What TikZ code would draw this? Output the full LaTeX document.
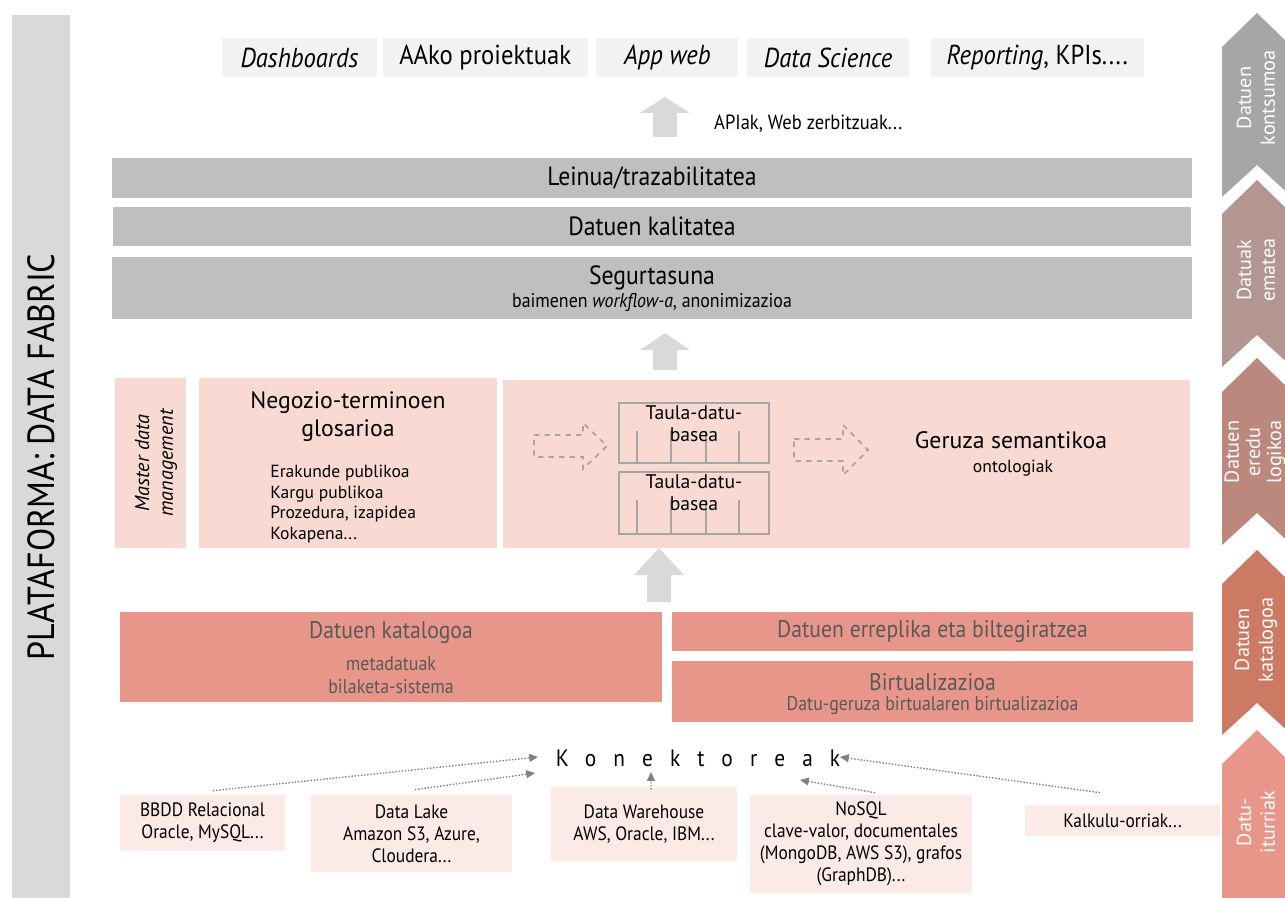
\documentclass[tikz,border=0pt]{standalone}
\usepackage{fontspec}
\setmainfont{PT Sans}
\newfontfamily\condfont{PT Sans}[FakeStretch=0.9]
\usetikzlibrary{positioning,arrows.meta}

\definecolor{sidegray}{HTML}{D9D9D9}
\definecolor{topgray}{HTML}{F2F2F2}
\definecolor{bargray}{HTML}{BFBFBF}
\definecolor{arrowgray}{HTML}{D9D9D9}
\definecolor{linegray}{HTML}{A6A6A6}
\definecolor{conngray}{HTML}{808080}
\definecolor{lightpink}{HTML}{F8DAD2}
\definecolor{salmon}{HTML}{E9968A}
\definecolor{srcpink}{HTML}{FCEAE7}
\definecolor{darktext}{HTML}{595959}
\definecolor{chevA}{HTML}{A6A6A6}
\definecolor{chevB}{HTML}{B39591}
\definecolor{chevC}{HTML}{BC887E}
\definecolor{chevD}{HTML}{CC7A64}
\definecolor{chevE}{HTML}{E9968A}

% wide arrow pointing up: centre x, tip y, head y, foot y
\newcommand{\blockup}[4]{%
  \fill[arrowgray] (#1-12,#4) -- (#1-12,#3) -- (#1-25,#3) -- (#1,#2)
    -- (#1+25,#3) -- (#1+12,#3) -- (#1+12,#4) -- cycle;}
% dashed arrow pointing right: start x, head x, tip x, centre y, half shaft, half head
\newcommand{\dashright}[6]{%
  \draw[linegray, dashed, line width=1pt] (#1,#4-#5) -- (#2,#4-#5) -- (#2,#4-#6) -- (#3,#4)
    -- (#2,#4+#6) -- (#2,#4+#5) -- (#1,#4+#5) -- cycle;}
% chevron on the right: tip y, bottom corner y, colour
\newcommand{\chevron}[3]{%
  \fill[#3] (1222,#1+34) -- (1257,#1) -- (1292,#1+34) -- (1292,#2) -- (1257,#2-32) -- (1222,#2) -- cycle;}

\begin{document}
\begin{tikzpicture}[x=0.02cm, y=-0.02cm,
  sz/.style 2 args={minimum width=#1*0.02cm, minimum height=#2*0.02cm},
  topbox/.style={fill=topgray, inner sep=0pt, font=\condfont\fontsize{15.6}{18}\selectfont},
  bar/.style={fill=bargray, inner sep=0pt, font=\condfont\fontsize{15}{18}\selectfont},
  pinkbox/.style={fill=lightpink, inner sep=0pt},
  salmonbox/.style={fill=salmon, inner sep=0pt, text=darktext, font=\condfont\fontsize{13.7}{16}\selectfont},
  salmontext/.style={text=darktext, inner sep=0pt, font=\condfont\fontsize{13.7}{16}\selectfont},
  subtext/.style={inner sep=0pt, align=center, font=\condfont\fontsize{11.3}{13}\selectfont},
  srcbox/.style={fill=srcpink, inner sep=0pt, align=center, font=\condfont\fontsize{11}{12.5}\selectfont},
  taula/.style={draw=linegray, line width=1.3pt, sz={150}{60}, inner sep=0pt},
  chevtext/.style={rotate=90, text=white, align=center, font=\fontsize{11.5}{13.5}\selectfont},
  conn/.style={draw=conngray, densely dotted, line width=0.8pt, -{Triangle[length=5pt,width=4.5pt]}},
  ]
\useasboundingbox (0,0) rectangle (1285,898);

% platform bar
\node[fill=sidegray, rotate=90, sz={884}{58}, font=\condfont\fontsize{21.5}{24}\selectfont] (plat) at (41,457) {PLATAFORMA: DATA FABRIC};

% consumers
\node[topbox, sz={155}{39}] (dash) at (299.5,57.5) {\textit{Dashboards}};
\node[topbox, sz={205}{39}, right=0.1cm of dash] (aako) {AAko proiektuak};
\node[topbox, sz={142}{39}, right=0.16cm of aako] (appweb) {\textit{App web}};
\node[topbox, sz={162}{39}, right=0.16cm of appweb] (dsci) {\textit{Data Science}};
\node[topbox, sz={213}{39}, right=0.42cm of dsci] (report) {\textit{Reporting}, KPIs....};

\blockup{665}{97}{113}{137}
\node[anchor=west, font=\condfont\fontsize{11.7}{14}\selectfont] (apis) at (708,124) {APIak, Web zerbitzuak...};

% delivery layers
\node[bar, sz={1080}{40}] (leinua) at (652,178) {Leinua/trazabilitatea};
\node[bar, sz={1078}{39}, below=0.16cm of leinua] (kalit) {Datuen kalitatea};
\node[bar, sz={1080}{62}, below=0.22cm of kalit] (segur) {};
\node[inner sep=0pt, font=\condfont\fontsize{15}{18}\selectfont] (segurt) at (652,278) {Segurtasuna};
\node[subtext] (segurs) at (652,302) {baimenen \textit{workflow-a}, anonimizazioa};

\blockup{665}{333}{350}{370}

% logical model
\node[pinkbox, sz={71}{170}] (mdm) at (150.5,463) {};
\node[rotate=90, align=center, inner sep=0pt, font=\itshape\fontsize{11.5}{13.5}\selectfont] (mdmt) at (156,463) {Master data\\management};
\node[pinkbox, sz={298}{170}] (gloss) at (348,463) {};
\node[anchor=north, align=center, inner sep=0pt, font=\fontsize{13.5}{16}\selectfont] (glosst) at (348,391) {Negozio-terminoen\\glosarioa};
\node[anchor=north west, align=left, inner sep=0pt, font=\fontsize{10}{11.7}\selectfont] (glossl) at (270,465) {Erakunde publikoa\\Kargu publikoa\\Prozedura, izapidea\\Kokapena...};

\node[pinkbox, sz={687}{168}] (sem) at (846.5,464) {};
\node[taula] (t1) at (694,433) {};
\node[taula, sz={150}{62}, below=0.14cm of t1] (t2) {};
\foreach \dx in {19,53,88,121} {
  \draw[linegray, line width=0.8pt] ([xshift=\dx*0.02cm]t1.south west) -- ++(0,-33);
  \draw[linegray, line width=0.8pt] ([xshift=\dx*0.02cm]t2.south west) -- ++(0,-35);
}
\node[anchor=north, align=center, inner sep=0pt, font=\fontsize{11.2}{12.5}\selectfont] (t1lab) at ([yshift=-0.07cm]t1.north) {Taula-datu-\\basea};
\node[anchor=north, align=center, inner sep=0pt, font=\fontsize{11.2}{12.5}\selectfont] (t2lab) at ([yshift=-0.07cm]t2.north) {Taula-datu-\\basea};
\dashright{534}{583}{607}{446}{11}{23}
\dashright{794}{843}{868}{450}{11}{25}
\node[inner sep=0pt, font=\fontsize{13.5}{16}\selectfont] (geruza) at (1011,440) {Geruza semantikoa};
\node[inner sep=0pt, font=\fontsize{10}{12}\selectfont] (onto) at (1013,468) {ontologiak};

\blockup{659}{548}{575}{602}

% catalogue, replication, virtualisation
\node[salmonbox, sz={542}{90}] (katal) at (391,657) {};
\node[salmontext] (katalt) at (391,633) {Datuen katalogoa};
\node[subtext, text=darktext] (katals) at (391,675) {metadatuak\\bilaketa-sistema};
\node[salmonbox, sz={521}{39}] (errep) at (932.5,631.5) {Datuen erreplika eta biltegiratzea};
\node[salmonbox, sz={521}{61}, below=0.18cm of errep] (birt) {};
\node[salmontext] (birtt) at (932.5,682) {Birtualizazioa};
\node[subtext, text=darktext] (birts) at (932.5,706) {Datu-geruza birtualaren birtualizazioa};

% connectors and sources
\node[inner sep=0pt, font=\condfont\fontsize{13.5}{16}\selectfont\addfontfeatures{LetterSpace=72}] (konek) at (698,758) {Konektoreak};
\coordinate (kin1) at (538,757);
\coordinate (kin2) at (535,773);
\coordinate (kin3) at (651,772);
\coordinate (kin4) at (800,780);
\coordinate (kin5) at (840,757);

\node[srcbox, sz={165}{56}] (bbdd) at (202.5,823) {BBDD Relacional\\Oracle, MySQL...};
\node[srcbox, sz={201}{77}] (dlake) at (411.5,833.5) {Data Lake\\Amazon S3, Azure,\\Cloudera...};
\node[srcbox, sz={186}{74}] (dwh) at (644,824) {Data Warehouse\\AWS, Oracle, IBM...};
\node[srcbox, sz={222}{98}] (nosql) at (861,844) {NoSQL\\clave-valor, documentales\\(MongoDB, AWS S3), grafos\\(GraphDB)...};
\node[srcbox, sz={195}{31}] (kalk) at (1122.5,820.5) {Kalkulu-orriak...};

\path
  ([xshift=0.21cm,yshift=0.08cm]bbdd.north) edge[conn] (kin1)
  ([xshift=0.07cm,yshift=0.1cm]dlake.north) edge[conn] (kin2)
  ([xshift=0.14cm,yshift=-0.06cm]dwh.north) edge[conn] (kin3)
  ([xshift=0.28cm,yshift=0.04cm]nosql.north) edge[conn] (kin4)
  ([xshift=-0.45cm,yshift=0.24cm]kalk.north) edge[conn] (kin5);

% stages on the right
\begin{scope}
  \clip (1200,0) rectangle (1285,898);
  \chevron{13}{197}{chevA}
  \chevron{180}{367}{chevB}
  \chevron{358}{545}{chevC}
  \chevron{550}{735}{chevD}
  \chevron{730}{930}{chevE}
  \node[chevtext] (stage1) at (1256,98) {Datuen\\kontsumoa};
  \node[chevtext] (stage2) at (1256,270) {Datuak\\ematea};
  \node[chevtext, font=\fontsize{11.5}{12}\selectfont] (stage3) at (1255,452) {Datuen\\eredu\\logikoa};
  \node[chevtext] (stage4) at (1256,640) {Datuen\\katalogoa};
  \node[chevtext] (stage5) at (1256,822) {Datu-\\iturriak};
\end{scope}
\end{tikzpicture}
\end{document}
